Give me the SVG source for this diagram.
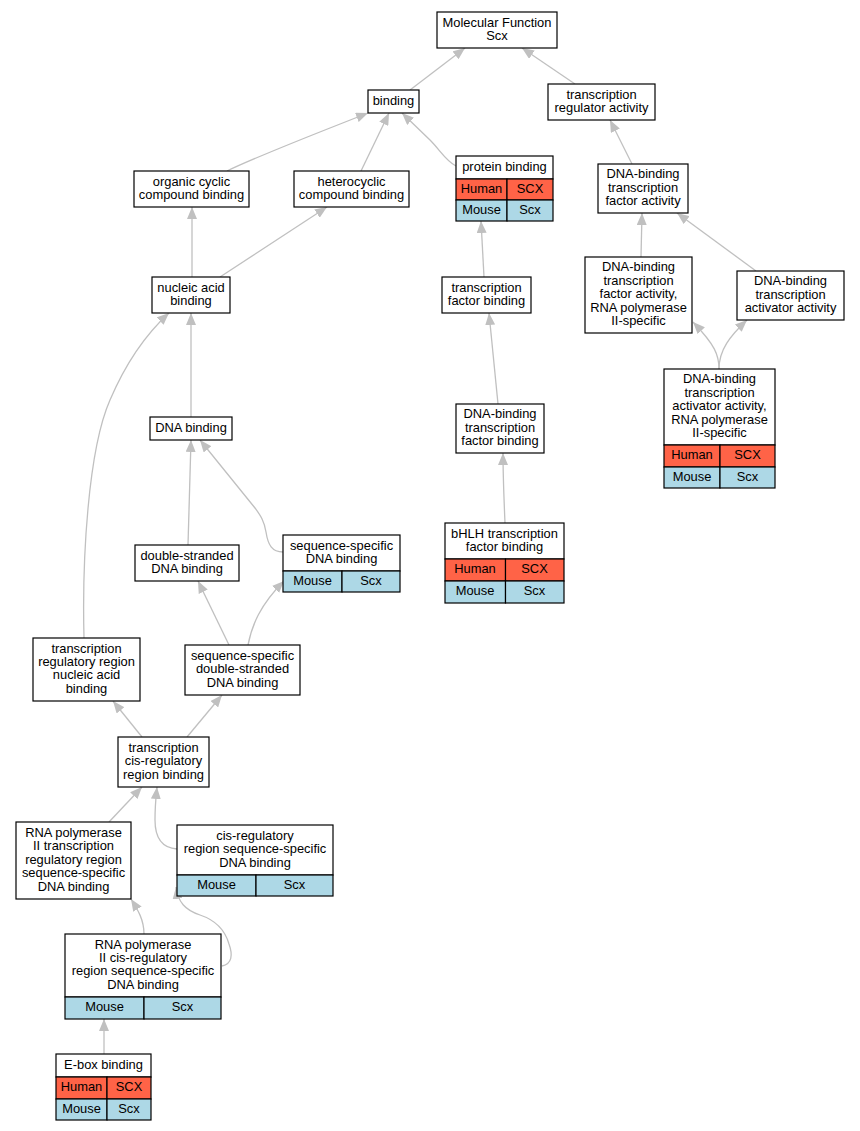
<svg xmlns="http://www.w3.org/2000/svg" width="860" height="1131" viewBox="0 0 860 1131">
<defs>
<marker id="arr" viewBox="0 0 12 10" refX="12" refY="5" markerWidth="12" markerHeight="10" markerUnits="userSpaceOnUse" orient="auto">
<path d="M0,0 L12,5 L0,10 Z" fill="#c0c0c0"/>
</marker>
<style>
.n{fill:#fff;stroke:#000;stroke-width:1.2}
.h{fill:#ff6347;stroke:#000;stroke-width:1.2}
.m{fill:#add8e6;stroke:#000;stroke-width:1.2}
text{font-family:"Liberation Sans",Arial,sans-serif;font-size:12.9px;text-anchor:middle;fill:#000}
#edges path{fill:none;stroke:#c0c0c0;stroke-width:1.3;marker-end:url(#arr)}
</style>
</defs>
<rect width="860" height="1131" fill="#fff"/>
<g id="edges">
<path d="M410,90 L465,48"/>
<path d="M575,84 L522,48"/>
<path d="M227,171 C260,155 320,132 368,113"/>
<path d="M361,171 L389,113"/>
<path d="M456,166 C446,161 440,150 430,140 L402,113"/>
<path d="M632,164 L610,120"/>
<path d="M484,277 L481,221"/>
<path d="M192,277 L192,207"/>
<path d="M220,277 L327,207"/>
<path d="M641,257 L642,213"/>
<path d="M756,271 L677,213"/>
<path d="M498,404 L489,313"/>
<path d="M505,523 C504,500 503,470 503,453"/>
<path d="M719,369 C719,355 715,345 693,322"/>
<path d="M719,369 C719,350 730,336 747,320"/>
<path d="M191,417 L191,313"/>
<path d="M84,638 C82,560 88,450 110,400 C125,365 145,335 169,313"/>
<path d="M188,545 L191,440"/>
<path d="M283,552 C272,552 268,545 266,532 C264,520 260,515 255,508 L200,440"/>
<path d="M229,645 L198,581"/>
<path d="M248,645 C252,625 260,605 284,581"/>
<path d="M142,737 L113,701"/>
<path d="M187,737 L222,695"/>
<path d="M109,822 L142,787"/>
<path d="M177,849 C162,848 155,838 155,820 C155,805 156,797 157,787"/>
<path d="M144,934 C144,920 138,910 131,899"/>
<path d="M222,966 C232,964 233,955 229,944 C225,930 215,920 200,915 C185,910 178,902 176,887"/>
<path d="M104,1054 L104,1019"/>
</g>
<g id="mf"><rect class="n" x="437" y="12" width="120" height="36"/><text x="497" y="26.5">Molecular Function</text><text x="497" y="39.9">Scx</text></g>
<g id="binding"><rect class="n" x="368" y="90" width="51" height="23"/><text x="393.5" y="104.7">binding</text></g>
<g id="tra"><rect class="n" x="548" y="84" width="107" height="36"/><text x="601.5" y="98.5">transcription</text><text x="601.5" y="111.9">regulator activity</text></g>
<g id="organic"><rect class="n" x="134" y="171" width="115" height="36"/><text x="191.5" y="185.5">organic cyclic</text><text x="191.5" y="198.9">compound binding</text></g>
<g id="hetero"><rect class="n" x="294" y="171" width="115" height="36"/><text x="351.5" y="185.5">heterocyclic</text><text x="351.5" y="198.9">compound binding</text></g>
<g id="protein">
<rect class="n" x="456" y="156" width="97" height="23"/><text x="504.5" y="170.7">protein binding</text>
<rect class="h" x="456" y="179" width="51" height="21"/><rect class="h" x="507" y="179" width="46" height="21"/>
<text x="481.5" y="192.7">Human</text><text x="530" y="192.7">SCX</text>
<rect class="m" x="456" y="200" width="51" height="21"/><rect class="m" x="507" y="200" width="46" height="21"/>
<text x="481.5" y="213.7">Mouse</text><text x="530" y="213.7">Scx</text>
</g>
<g id="dbtfa"><rect class="n" x="598" y="164" width="90" height="49"/><text x="643" y="178.3">DNA-binding</text><text x="643" y="191.7">transcription</text><text x="643" y="205.1">factor activity</text></g>
<g id="nucleic"><rect class="n" x="152" y="277" width="78" height="36"/><text x="191" y="291.5">nucleic acid</text><text x="191" y="304.9">binding</text></g>
<g id="tfb"><rect class="n" x="442" y="277" width="89" height="36"/><text x="486.5" y="291.5">transcription</text><text x="486.5" y="304.9">factor binding</text></g>
<g id="dbtfa2"><rect class="n" x="585" y="257" width="107" height="76"/><text x="638.5" y="271.4">DNA-binding</text><text x="638.5" y="284.8">transcription</text><text x="638.5" y="298.2">factor activity,</text><text x="638.5" y="311.6">RNA polymerase</text><text x="638.5" y="325">II-specific</text></g>
<g id="dbtaa"><rect class="n" x="737" y="271" width="107" height="49"/><text x="790.5" y="285.3">DNA-binding</text><text x="790.5" y="298.7">transcription</text><text x="790.5" y="312.1">activator activity</text></g>
<g id="dbtaa2">
<rect class="n" x="664" y="369" width="111" height="76"/>
<text x="719.5" y="383.4">DNA-binding</text><text x="719.5" y="396.8">transcription</text><text x="719.5" y="410.2">activator activity,</text><text x="719.5" y="423.6">RNA polymerase</text><text x="719.5" y="437">II-specific</text>
<rect class="h" x="664" y="445" width="56" height="22"/><rect class="h" x="720" y="445" width="55" height="22"/>
<text x="692" y="459.2">Human</text><text x="747.5" y="459.2">SCX</text>
<rect class="m" x="664" y="467" width="56" height="21"/><rect class="m" x="720" y="467" width="55" height="21"/>
<text x="692" y="480.7">Mouse</text><text x="747.5" y="480.7">Scx</text>
</g>
<g id="dbtfb"><rect class="n" x="456" y="404" width="88" height="49"/><text x="500" y="418.3">DNA-binding</text><text x="500" y="431.7">transcription</text><text x="500" y="445.1">factor binding</text></g>
<g id="bhlh">
<rect class="n" x="445" y="523" width="119" height="36"/><text x="504.5" y="537.5">bHLH transcription</text><text x="504.5" y="550.9">factor binding</text>
<rect class="h" x="445" y="559" width="60.5" height="22"/><rect class="h" x="505.5" y="559" width="58.5" height="22"/>
<text x="475" y="573.2">Human</text><text x="534.5" y="573.2">SCX</text>
<rect class="m" x="445" y="581" width="60.5" height="22"/><rect class="m" x="505.5" y="581" width="58.5" height="22"/>
<text x="475" y="595.2">Mouse</text><text x="534.5" y="595.2">Scx</text>
</g>
<g id="dnab"><rect class="n" x="150" y="417" width="82" height="23"/><text x="191" y="431.7">DNA binding</text></g>
<g id="dsdna"><rect class="n" x="135" y="545" width="104" height="36"/><text x="187" y="559.5">double-stranded</text><text x="187" y="572.9">DNA binding</text></g>
<g id="ssdna">
<rect class="n" x="283" y="535" width="117" height="36"/><text x="341.5" y="549.5">sequence-specific</text><text x="341.5" y="562.9">DNA binding</text>
<rect class="m" x="283" y="571" width="59" height="21"/><rect class="m" x="342" y="571" width="58" height="21"/>
<text x="312.5" y="584.7">Mouse</text><text x="371" y="584.7">Scx</text>
</g>
<g id="trrnab"><rect class="n" x="33" y="638" width="107" height="63"/><text x="86.5" y="652.6">transcription</text><text x="86.5" y="666">regulatory region</text><text x="86.5" y="679.4">nucleic acid</text><text x="86.5" y="692.8">binding</text></g>
<g id="ssds"><rect class="n" x="185" y="645" width="115" height="50"/><text x="242.5" y="659.8">sequence-specific</text><text x="242.5" y="673.2">double-stranded</text><text x="242.5" y="686.6">DNA binding</text></g>
<g id="tcrrb"><rect class="n" x="118" y="737" width="91" height="50"/><text x="163.5" y="751.8">transcription</text><text x="163.5" y="765.2">cis-regulatory</text><text x="163.5" y="778.6">region binding</text></g>
<g id="rnap2trr"><rect class="n" x="16" y="822" width="115" height="77"/><text x="73.5" y="836.9">RNA polymerase</text><text x="73.5" y="850.3">II transcription</text><text x="73.5" y="863.7">regulatory region</text><text x="73.5" y="877.1">sequence-specific</text><text x="73.5" y="890.5">DNA binding</text></g>
<g id="crrss">
<rect class="n" x="177" y="825" width="156" height="50"/><text x="255" y="839.8">cis-regulatory</text><text x="255" y="853.2">region sequence-specific</text><text x="255" y="866.6">DNA binding</text>
<rect class="m" x="177" y="875" width="79" height="21"/><rect class="m" x="256" y="875" width="77" height="21"/>
<text x="216.5" y="888.7">Mouse</text><text x="294.5" y="888.7">Scx</text>
</g>
<g id="rnap2crrss">
<rect class="n" x="65" y="934" width="156" height="63"/><text x="143" y="948.6">RNA polymerase</text><text x="143" y="962">II cis-regulatory</text><text x="143" y="975.4">region sequence-specific</text><text x="143" y="988.8">DNA binding</text>
<rect class="m" x="65" y="997" width="79" height="22"/><rect class="m" x="144" y="997" width="77" height="22"/>
<text x="104.5" y="1011.2">Mouse</text><text x="182.5" y="1011.2">Scx</text>
</g>
<g id="ebox">
<rect class="n" x="56" y="1054" width="95" height="23"/><text x="103.5" y="1068.7">E-box binding</text>
<rect class="h" x="56" y="1077" width="51" height="22"/><rect class="h" x="107" y="1077" width="44" height="22"/>
<text x="81.5" y="1091.2">Human</text><text x="129" y="1091.2">SCX</text>
<rect class="m" x="56" y="1099" width="51" height="21"/><rect class="m" x="107" y="1099" width="44" height="21"/>
<text x="81.5" y="1112.7">Mouse</text><text x="129" y="1112.7">Scx</text>
</g>
</svg>
